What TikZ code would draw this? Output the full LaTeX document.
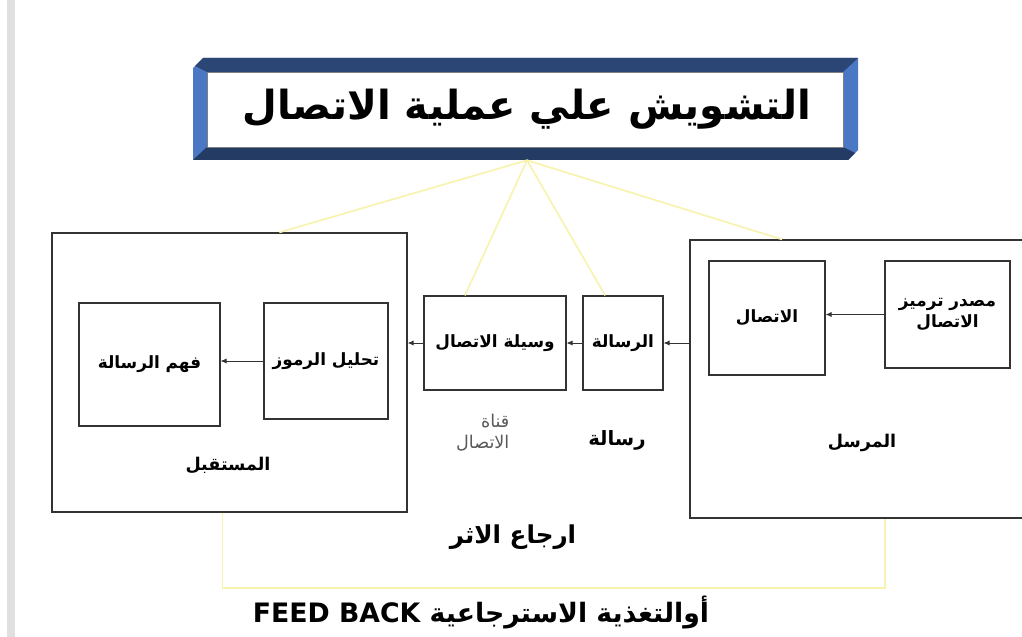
\documentclass[tikz,border=0pt]{standalone}
\usepackage{fontspec}
\usetikzlibrary{arrows.meta,calc}
\TeXXeTstate=1
\newfontfamily\arabicfont[Script=Arabic]{DejaVu Sans}
\newcommand{\ar}[1]{{\arabicfont\beginR #1\endR}}
\definecolor{navy}{HTML}{2B4674}
\definecolor{bevel}{HTML}{4A78C4}
\definecolor{noise}{HTML}{F8F4B0}

\begin{document}
\begin{tikzpicture}[x=0.025cm, y=-0.025cm,
	box/.style={draw=black!80, line width=0.8pt, inner sep=0pt, font=\bfseries\fontsize{12}{15}\selectfont, align=center},
	lbl/.style={inner sep=1pt, font=\bfseries\fontsize{12.5}{15}\selectfont, align=center},
	arr/.style={draw=black!80, line width=0.6pt, -{Latex[length=1.5mm,width=1.3mm]}},
	noiseline/.style={draw=noise, line width=1.2pt}]
	\clip (0,0) rectangle (1022,637);
	\fill[white] (0,0) rectangle (1022,637);
	\fill[black!12] (7,0) rectangle (15,637);

	% title frame
	\fill[bevel] (203,58) -- (858,58) -- (858,150) -- (848,160) -- (193,160) -- (193,68) -- cycle;
	\fill[navy] (203,58) -- (858,58) -- (843,72) -- (207,72) -- (195,66) -- cycle;
	\fill[navy!85!black] (193,160) -- (848,160) -- (855,153) -- (843,147) -- (207,147) -- cycle;
	\draw[fill=white, draw=black!50] (207,72) rectangle (843,147);
	\draw (527,109) node[minimum width=16.625cm, minimum height=2.55cm, font=\bfseries\fontsize{28.5}{34}\selectfont] (title) {\ar{التشويش علي عملية الاتصال}};

	% receiver
	\draw (229.5,372.5) node[box, minimum width=8.875cm, minimum height=6.975cm] (rcv) {};
	\draw (149.5,364.5) node[box, minimum width=3.525cm, minimum height=3.075cm] (fahm) {\ar{فهم الرسالة}};
	\draw (326,361) node[box, minimum width=3.1cm, minimum height=2.9cm] (tahlil) {\ar{تحليل الرموز}};
	\draw (228,465) node[lbl] (rcvlbl) {\ar{المستقبل}};

	% channel
	\draw (495,343) node[box, minimum width=3.55cm, minimum height=2.35cm] (medium) {\ar{وسيلة الاتصال}};
	\draw (623,343) node[box, minimum width=2cm, minimum height=2.35cm] (msg) {\ar{الرسالة}};
	\draw (511,433) node[lbl, anchor=east, align=right, font=\fontsize{12.5}{15}\selectfont, text=black!65] (chanlbl) {\ar{قناة}\\\ar{الاتصال}};
	\draw (617,440) node[lbl, font=\bfseries\fontsize{14}{16}\selectfont] (msglbl) {\ar{رسالة}};

	% sender
	\draw (867.5,379) node[box, minimum width=8.875cm, minimum height=6.95cm] (snd) {};
	\draw (767,318) node[box, minimum width=2.9cm, minimum height=2.85cm] (conn) {\ar{الاتصال}};
	\draw (947.5,314.5) node[box, minimum width=3.125cm, minimum height=2.675cm] (src) {\ar{مصدر ترميز}\\\ar{الاتصال}};
	\draw (862,443) node[lbl] (sndlbl) {\ar{المرسل}};

	% arrows
	\draw[arr] (src.west) -- (src.west -| conn.east);
	\draw[arr] (msg.east -| snd.west) -- (msg.east);
	\draw[arr] (msg.west) -- (medium.east);
	\draw[arr] (medium.west) -- (medium.west -| rcv.east);
	\draw[arr] (tahlil.west) -- (tahlil.west -| fahm.east);

	% noise
	\draw[noiseline] (title.south) -- ($(rcv.north west)!0.64!(rcv.north east)$);
	\draw[noiseline] (title.south) -- ($(medium.north west)!0.29!(medium.north east)$);
	\draw[noiseline] (title.south) -- ($(msg.north west)!0.28!(msg.north east)$);
	\draw[noiseline] (title.south) -- ($(snd.north west)!0.26!(snd.north east)$);

	% feedback
	\coordinate (fb) at (550,588);
	\draw[noiseline] ($(rcv.south west)!0.48!(rcv.south east)$) |- (fb) -| ($(snd.south west)!0.55!(snd.south east)$);
	\draw (513,537) node[lbl, font=\bfseries\fontsize{17.5}{20}\selectfont] (fblbl) {\ar{ارجاع الاثر}};
	\draw (481,612) node[lbl, font=\bfseries\fontsize{19}{22}\selectfont] (fbtext) {\ar{أوالتغذية الاسترجاعية \beginL FEED BACK\endL}};
\end{tikzpicture}
\end{document}
